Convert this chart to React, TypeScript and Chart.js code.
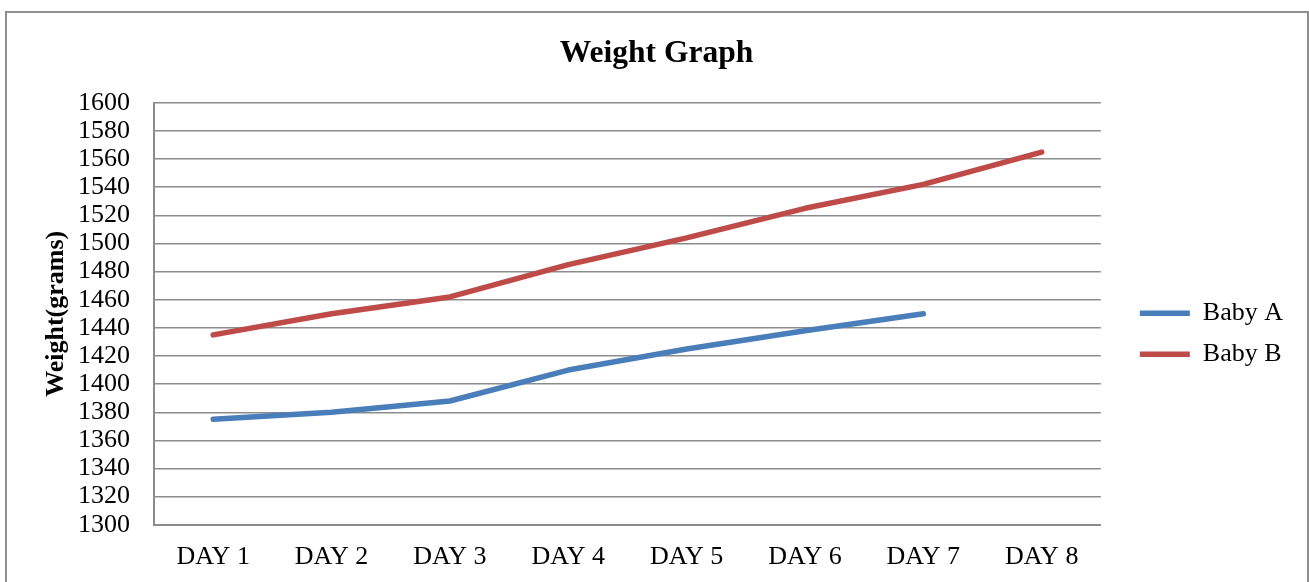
import React, { useEffect, useRef } from "react";
import { Chart, registerables } from "chart.js";

Chart.register(...registerables);

const categories = ["DAY 1", "DAY 2", "DAY 3", "DAY 4", "DAY 5", "DAY 6", "DAY 7", "DAY 8"];
const babyA = [1375, 1380, 1388, 1410, 1425, 1438, 1450];
const babyB = [1435, 1450, 1462, 1485, 1504, 1525, 1542, 1565];
const seriesNames = ["Baby A", "Baby B"];
const yMin = 1300;
const yMax = 1600;
const yStep = 20;

const FONT = "'Liberation Serif', 'Times New Roman', serif";
const GRID = "#8c8c8c";

const boxShift = {
  id: "boxShift",
  beforeDraw(chart: any) {
    const lg = chart.legend;
    if (lg) {
      lg.left += 24;
      lg.right += 24;
      lg.top += 20;
      lg.bottom += 20;
    }
    const tb = chart.titleBlock;
    if (tb) {
      tb.left += 7;
      tb.right += 7;
      tb.top += 2;
      tb.bottom += 2;
    }
  },
};

export default function App() {
  const ref = useRef<HTMLCanvasElement | null>(null);

  useEffect(() => {
    document.body.style.margin = "0";
    const ctx = ref.current!;
    const chart = new Chart(ctx, {
      type: "line",
      data: {
        labels: categories,
        datasets: [
          {
            label: seriesNames[0],
            data: babyA,
            borderColor: "#4a7ebb",
            backgroundColor: "#4a7ebb",
            borderWidth: 5.5,
            pointRadius: 0,
            tension: 0,
            borderCapStyle: "round",
            borderJoinStyle: "round",
          },
          {
            label: seriesNames[1],
            data: babyB,
            borderColor: "#be4b48",
            backgroundColor: "#be4b48",
            borderWidth: 5.5,
            pointRadius: 0,
            tension: 0,
            borderCapStyle: "round",
            borderJoinStyle: "round",
          },
        ],
      },
      options: {
        animation: false,
        responsive: false,
        maintainAspectRatio: false,
        layout: { padding: { left: 30, top: 11, right: 40, bottom: 10 } },
        plugins: {
          title: {
            display: true,
            text: "Weight Graph",
            color: "#000",
            font: { family: FONT, size: 31.5, weight: "bold" },
            padding: { top: 22, bottom: 32 },
          },
          legend: {
            display: true,
            position: "right",
            fullSize: false,
            labels: {
              usePointStyle: true,
              pointStyle: "line",
              pointStyleWidth: 50,
              padding: 15,
              color: "#000",
              font: { family: FONT, size: 26 },
            },
          },
          tooltip: { enabled: false },
        },
        scales: {
          x: {
            offset: true,
            grid: { display: false, drawTicks: false },
            border: { display: true, color: GRID, width: 2 },
            ticks: {
              color: "#000",
              font: { family: FONT, size: 26 },
              padding: 17,
              maxRotation: 0,
              autoSkip: false,
            },
          },
          y: {
            min: yMin,
            max: yMax,
            afterFit(scale: any) {
              scale.width = 124;
            },
            grid: { color: GRID, lineWidth: 1.5, drawTicks: false },
            border: { display: true, color: GRID, width: 2 },
            ticks: {
              stepSize: yStep,
              autoSkip: false,
              color: "#000",
              font: { family: FONT, size: 26, lineHeight: 1 },
              padding: 24,
              callback: (v: any) => String(v),
            },
            title: {
              display: true,
              text: "Weight(grams)",
              color: "#000",
              font: { family: FONT, size: 26, weight: "bold" },
              padding: { top: 11, bottom: 0 },
            },
          },
        },
      },
      plugins: [boxShift],
    });
    return () => chart.destroy();
  }, []);

  return (
    <div style={{ position: "relative", width: 1309, height: 582, overflow: "hidden", background: "#fff" }}>
      <div
        style={{
          position: "absolute",
          left: 5,
          top: 11,
          width: 1304,
          height: 700,
          border: "2px solid #8e8e8e",
          boxSizing: "border-box",
        }}
      />
      <canvas ref={ref} width={1309} height={600} style={{ position: "absolute", left: 0, top: 0, width: 1309, height: 600 }} />
    </div>
  );
}
